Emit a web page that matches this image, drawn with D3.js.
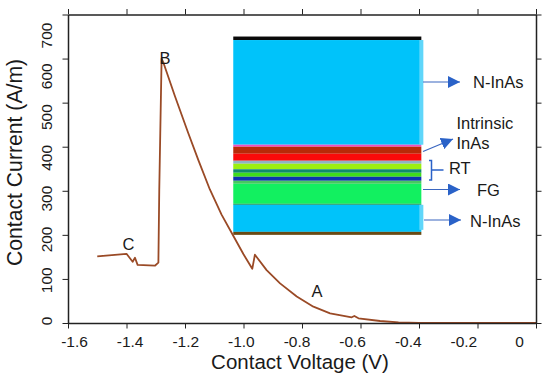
<!DOCTYPE html>
<meta charset="utf-8">
<style>
    body { margin: 0; background: #fff; }
    text { font-family: "Liberation Sans", Arial, sans-serif; fill: #1a1a1a; }
    .tick text { font-size: 15.5px; }
    .axis path, .axis line { stroke: #222; }
    .axis-title { font-size: 20.5px; }
    .note { font-size: 16.5px; }
</style>
<body>
<script src="https://d3js.org/d3.v7.min.js"></script>
<script>
// values
var voltage = [-1.5, -1.4, -1.379, -1.371, -1.362, -1.303, -1.291, -1.288, -1.28, -1.274, -1.234, -1.189, -1.154, -1.115, -1.075,
    -1.035, -1.0, -0.97, -0.961, -0.921, -0.875, -0.818, -0.761, -0.704, -0.63, -0.621, -0.607, -0.533, -0.47, -0.4, -0.2, 0];
var current = [151, 157, 139, 148, 132, 130, 137, 302, 600, 591, 514, 431, 369, 303, 246,
    198, 156, 123, 155, 120, 90, 60, 37, 22, 13, 16, 10.7, 4.5, 1.5, 0.5, 0, 0];

var xTicks = [-1.6, -1.4, -1.2, -1.0, -0.8, -0.6, -0.4, -0.2, 0];
var xTickLabels = ["-1.6", "-1.4", "-1.2", "-1.0", "-0.8", "-0.6", "-0.4", "-0.2", "0"];
var yTicks = [0, 100, 200, 300, 400, 500, 600, 700];

// inset layer stack, top to bottom
var layerThickness = [3.5, 104.5, 2, 7, 7, 3, 5.5, 3.5, 4, 4, 3, 20, 1, 27, 3];
var layerColors = ["#0a0a0a", "#00c3fa", "#f04fc0", "#b82a08", "#fa0a0a", "#8fb4c4", "#9cf010", "#108a70",
    "#3fdc1c", "#0c34b0", "#48c860", "#12f060", "#1c8a50", "#00c3fa", "#6a4a14"];

var margin = {top: 14.5, right: 14, bottom: 57, left: 68},
    width = 550 - margin.left - margin.right,
    height = 380 - margin.top - margin.bottom;

var svg = d3.select("body").append("svg")
    .attr("width", 550)
    .attr("height", 380)
    .style("display", "block");

var g = svg.append("g")
    .attr("transform", "translate(" + margin.left + "," + margin.top + ")");

var x = d3.scaleLinear().domain([-1.6, 0]).range([0, width]);
var y = d3.scaleLinear().domain([0, 700]).range([height, 0]);

// the tick labels in the figure do not sit on their ticks, they run on a tighter spacing
var xLabel = d3.scaleLinear().domain([-1.6, 0]).range([6, 451]);
var yLabel = d3.scaleLinear().domain([0, 700]).range([height - 2.5, 20.5]);

// Inset device stack
var insetLeft = x(-1.035), insetRight = x(-0.392);
var insetY = d3.scaleLinear()
    .domain([0, d3.sum(layerThickness)])
    .range([y(650), y(200)]);

var offset = 0;
var layers = layerThickness.map(function(t, i) {
    var d = {y0: offset, y1: offset + t, color: layerColors[i]};
    offset += t;
    return d;
});

g.append("g").selectAll("rect")
    .data(layers)
    .enter().append("rect")
    .attr("x", insetLeft)
    .attr("width", insetRight - insetLeft)
    .attr("y", function(d) { return insetY(d.y0); })
    .attr("height", function(d) { return insetY(d.y1) - insetY(d.y0); })
    .attr("fill", function(d) { return d.color; });

// lighter strip on the right side of the stack
g.append("rect")
    .attr("x", insetRight - 2)
    .attr("width", 4)
    .attr("y", insetY(3.5))
    .attr("height", insetY(108) - insetY(3.5))
    .attr("fill", "#5fd6fa");
g.append("rect")
    .attr("x", insetRight - 2)
    .attr("width", 4)
    .attr("y", insetY(168))
    .attr("height", insetY(193) - insetY(168))
    .attr("fill", "#5fd6fa");

// Curve
var line = d3.line()
    .x(function(d) { return x(d[0]); })
    .y(function(d) { return y(d[1]); });

g.append("path")
    .datum(d3.zip(voltage, current))
    .attr("fill", "none")
    .attr("stroke", "#9a4a26")
    .attr("stroke-width", 1.8)
    .attr("stroke-linejoin", "round")
    .attr("d", line);

// Axes, ticks point outward on all four sides
var bottomAxis = g.append("g")
    .attr("class", "axis")
    .attr("transform", "translate(0," + height + ")")
    .call(d3.axisBottom(x).tickValues(xTicks).tickSize(5.5).tickSizeOuter(0)
        .tickFormat(function(d, i) { return xTickLabels[i]; }));
var topAxis = g.append("g")
    .attr("class", "axis")
    .call(d3.axisTop(x).tickValues(xTicks).tickSize(5.5).tickSizeOuter(0).tickFormat(""));
var leftAxis = g.append("g")
    .attr("class", "axis")
    .call(d3.axisLeft(y).tickValues(yTicks).tickSize(5.5).tickSizeOuter(0));
var rightAxis = g.append("g")
    .attr("class", "axis")
    .attr("transform", "translate(" + width + ",0)")
    .call(d3.axisRight(y).tickValues(yTicks).tickSize(5.5).tickSizeOuter(0).tickFormat(""));

g.selectAll(".axis .domain").attr("stroke-width", 1.5);

bottomAxis.selectAll(".tick text")
    .attr("x", function(d) { return xLabel(d) - x(d); })
    .attr("y", 13)
    .attr("dy", "0.71em");

leftAxis.selectAll(".tick text")
    .attr("transform", function(d) { return "translate(-16," + (yLabel(d) - y(d)) + ") rotate(-90)"; })
    .attr("x", 0)
    .attr("y", 0)
    .attr("dy", 0)
    .attr("text-anchor", "middle");

svg.append("text")
    .attr("class", "axis-title")
    .attr("x", 300)
    .attr("y", 369)
    .attr("text-anchor", "middle")
    .text("Contact Voltage (V)");

svg.append("text")
    .attr("class", "axis-title")
    .attr("transform", "translate(22,162.5) rotate(-90)")
    .attr("text-anchor", "middle")
    .style("font-size", "21.2px")
    .text("Contact Current (A/m)");

// Point letters and layer names
var notes = [
    {t: "B", px: 165, py: 64, anchor: "middle"},
    {t: "C", px: 128.5, py: 250, anchor: "middle"},
    {t: "A", px: 317, py: 297, anchor: "middle"},
    {t: "N-InAs", px: 473, py: 88, anchor: "start"},
    {t: "Intrinsic", px: 456.5, py: 129, anchor: "start"},
    {t: "InAs", px: 456.5, py: 149, anchor: "start"},
    {t: "RT", px: 449, py: 174, anchor: "start"},
    {t: "FG", px: 477, py: 196, anchor: "start"},
    {t: "N-InAs", px: 470, py: 227, anchor: "start"}
];
svg.append("g").selectAll("text")
    .data(notes)
    .enter().append("text")
    .attr("class", "note")
    .attr("x", function(d) { return d.px; })
    .attr("y", function(d) { return d.py; })
    .attr("text-anchor", function(d) { return d.anchor; })
    .text(function(d) { return d.t; });

// Arrows from the stack to the layer names
var arrows = [[423, 82, 460, 82], [423, 151.5, 453, 139], [423, 189.5, 460, 189.5], [424, 220, 461, 220]];
svg.append("defs").append("marker")
    .attr("id", "head")
    .attr("viewBox", "0 0 12 12")
    .attr("refX", 12)
    .attr("refY", 6)
    .attr("markerUnits", "userSpaceOnUse")
    .attr("markerWidth", 12)
    .attr("markerHeight", 12)
    .attr("orient", "auto")
    .append("path")
    .attr("d", "M0,0L12,6L0,12Z")
    .attr("fill", "#2a62c8");

svg.append("g").selectAll("line")
    .data(arrows)
    .enter().append("line")
    .attr("x1", function(d) { return d[0]; })
    .attr("y1", function(d) { return d[1]; })
    .attr("x2", function(d) { return d[2]; })
    .attr("y2", function(d) { return d[3]; })
    .attr("stroke", "#3a66c0")
    .attr("stroke-width", 1.2)
    .attr("marker-end", "url(#head)");

// RT bracket
svg.append("path")
    .attr("d", "M429,160.5H431.5V180H429M431.5,170H443.5")
    .attr("fill", "none")
    .attr("stroke", "#2a62c8")
    .attr("stroke-width", 1.5);
</script>
</body>
